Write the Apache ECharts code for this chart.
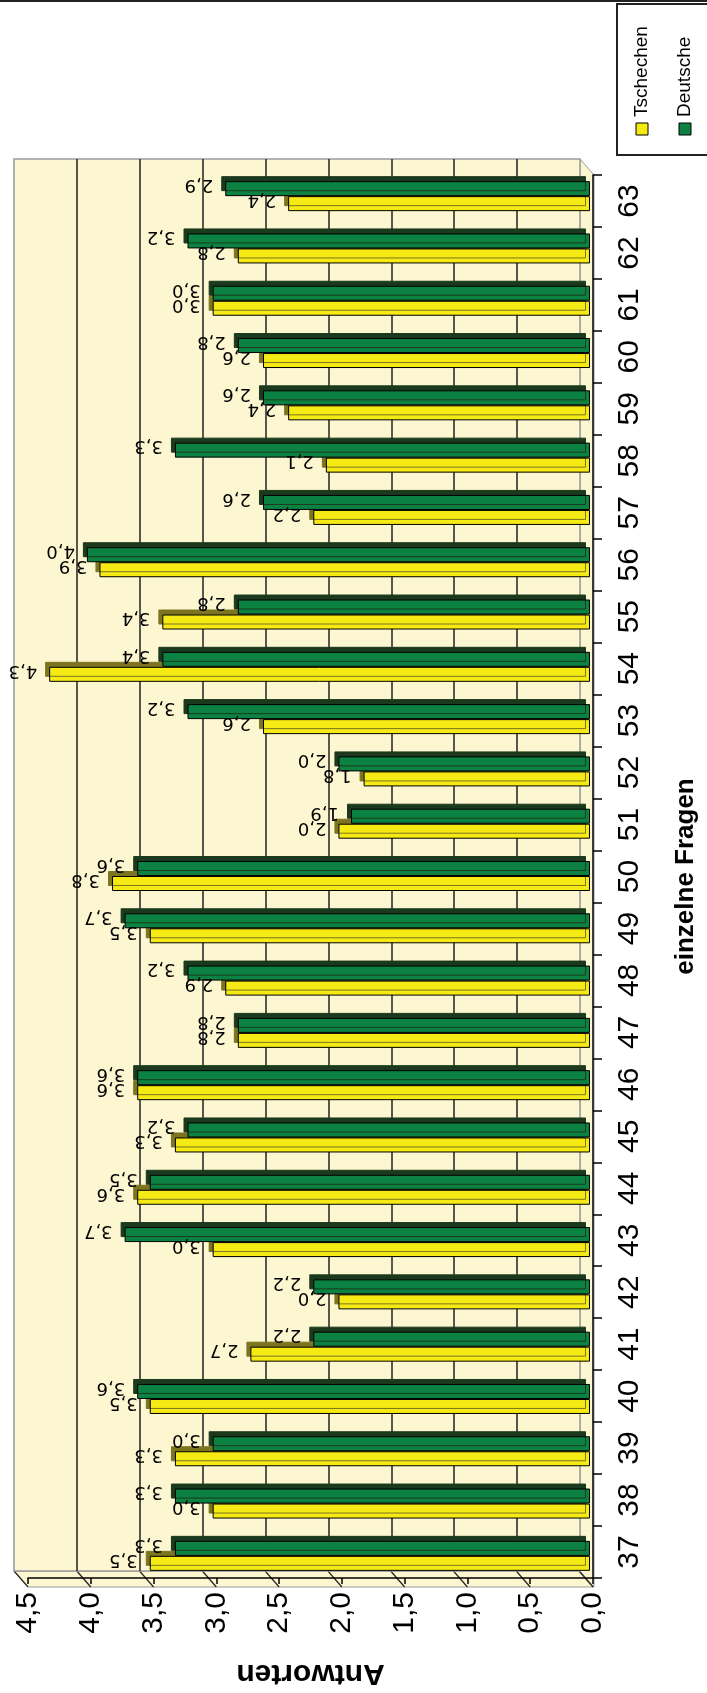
<!DOCTYPE html>
<html>
<head>
<meta charset="utf-8">
<title>Antworten - einzelne Fragen</title>
<script src="https://cdn.jsdelivr.net/npm/echarts@6/dist/echarts.min.js"></script>
<style>
  html, body { margin: 0; padding: 0; background: #fff; overflow: hidden; }
  #chart { width: 707px; height: 1693px; }
</style>
</head>
<body>
<div id="chart"></div>
<script>
var fragen = ['37','38','39','40','41','42','43','44','45','46','47','48','49','50',
              '51','52','53','54','55','56','57','58','59','60','61','62','63'];
var tschechen = [3.5,3.0,3.3,3.5,2.7,2.0,3.0,3.6,3.3,3.6,2.8,2.9,3.5,3.8,
                 2.0,1.8,2.6,4.3,3.4,3.9,2.2,2.1,2.4,2.6,3.0,2.8,2.4];
var deutsche  = [3.3,3.3,3.0,3.6,2.2,2.2,3.7,3.5,3.2,3.6,2.8,3.2,3.7,3.6,
                 1.9,2.0,3.2,3.4,2.8,4.0,2.6,3.3,2.6,2.8,3.0,3.2,2.9];
var serienNamen = ['Tschechen', 'Deutsche'];
var achseMin = 0, achseMax = 4.5, achseSchritt = 0.5;

// Farben
var gelb = '#f5ea14', gelbTiefe = '#7d7420';
var gruen = '#0c8242', gruenTiefe = '#1b391c';
var wand = '#fcf7d0';

// Layout (Bild ist um 90 Grad gedreht)
var W = 707, H = 1693;
var front = {left: 28, right: 113, top: 175, bottom: 106};
var tiefe = [14, 16];
var wandGrid = {left: front.left - tiefe[0], right: front.right + tiefe[0],
                top: front.top - tiefe[1], bottom: front.bottom + tiefe[1]};
var balkenGrid = {left: front.left - 4, right: front.right + 4,
                  top: front.top - 5, bottom: front.bottom + 5};
var x0 = W - front.right, y0 = H - front.bottom;

var schmal = "'Liberation Sans Narrow', 'Liberation Sans', Arial, sans-serif";
var fett = "'Liberation Sans', Arial, sans-serif";

function komma(v) {
    return v.toFixed(1).replace('.', ',');
}

function valueAxis(idx, shown) {
    return {
        type: 'value', gridIndex: idx, inverse: true,
        min: achseMin, max: achseMax, interval: achseSchritt,
        position: 'bottom',
        show: true,
        axisLine: {show: shown, onZero: false, lineStyle: {color: '#000', width: 1.5}},
        axisTick: {show: shown, length: 6, lineStyle: {color: '#000', width: 1.5}},
        axisLabel: {show: shown, rotate: 90, margin: 14, fontSize: 30,
                    fontFamily: schmal, color: '#000', formatter: komma},
        splitLine: {show: false}
    };
}

function catAxis(idx, shown) {
    return {
        type: 'category', gridIndex: idx, data: fragen,
        position: 'right',
        show: shown,
        axisLine: {show: shown, lineStyle: {color: '#000', width: 1.5}},
        axisTick: {show: shown, length: 9, lineStyle: {color: '#000', width: 1.5}},
        axisLabel: {show: shown, rotate: 90, margin: 22, fontSize: 30,
                    fontFamily: schmal, color: '#000'},
        splitLine: {show: false}
    };
}

var xA = valueAxis(0, true);
xA.name = 'Antworten';
xA.nameLocation = 'middle';
xA.nameRotate = 180;
xA.nameGap = 80;
xA.nameTextStyle = {fontSize: 30, fontWeight: 'bold', color: '#000', fontFamily: fett};

var xB = valueAxis(1, false);
xB.splitLine = {show: true, showMinLine: false, showMaxLine: false,
                lineStyle: {color: '#222', width: 1.5}};

var yA = catAxis(0, true);
yA.name = 'einzelne Fragen';
yA.nameLocation = 'middle';
yA.nameRotate = 90;
yA.nameGap = 80;
yA.nameTextStyle = {fontSize: 26, fontWeight: 'bold', color: '#000', fontFamily: fett};

// Balken: die gelbe Reihe liegt hinter der gruenen (3D-Tiefe)
function serie(name, daten, farbe, tiefeFarbe, z) {
    return {
        name: name, type: 'bar', data: daten, z: z,
        xAxisIndex: 2, yAxisIndex: 2,
        barWidth: 15, barGap: '0%',
        itemStyle: {
            color: farbe, borderColor: '#000', borderWidth: 1,
            shadowColor: tiefeFarbe, shadowBlur: 0,
            shadowOffsetX: -4, shadowOffsetY: -5
        },
        label: {show: false},
        emphasis: {disabled: true}
    };
}

// unsichtbare Kopie in gleichem Raster, nur fuer die Beschriftung (liegt ueber allen Balken)
function beschriftung(name, daten) {
    return {
        name: name, type: 'bar', data: daten, z: 5, silent: true,
        xAxisIndex: 3, yAxisIndex: 3,
        barWidth: 15, barGap: '0%',
        itemStyle: {color: 'rgba(0,0,0,0)'},
        label: {
            show: true, position: 'left', distance: 12,
            rotate: 180, align: 'left', verticalAlign: 'middle',
            offset: [0, 4],
            fontSize: 18, fontFamily: 'DejaVu Sans, sans-serif', color: '#000',
            formatter: function (p) { return komma(p.value); }
        },
        emphasis: {disabled: true}
    };
}

var chart = echarts.init(document.getElementById('chart'));

var balkenRaster = {left: balkenGrid.left, right: balkenGrid.right,
                    top: balkenGrid.top, bottom: balkenGrid.bottom};

var option = {
    animation: false,
    backgroundColor: '#fff',
    grid: [
        {left: front.left, right: front.right, top: front.top, bottom: front.bottom},
        {left: wandGrid.left, right: wandGrid.right, top: wandGrid.top, bottom: wandGrid.bottom,
         show: true, backgroundColor: wand, borderColor: '#9a9a9a', borderWidth: 1.5},
        balkenRaster,
        balkenRaster
    ],
    xAxis: [xA, xB, valueAxis(2, false), valueAxis(3, false)],
    yAxis: [yA, catAxis(1, false), catAxis(2, false), catAxis(3, false)],
    series: [
        serie(serienNamen[1], deutsche, gruen, gruenTiefe, 3),
        serie(serienNamen[0], tschechen, gelb, gelbTiefe, 2),
        beschriftung(serienNamen[1], deutsche),
        beschriftung(serienNamen[0], tschechen)
    ]
};
chart.setOption(option);

// 3D-Boden, Seitenwand, Legende
var wl = wandGrid.left, wr = W - wandGrid.right, wt = wandGrid.top, wb = H - wandGrid.bottom;
var deko = [
    {type: 'line', z: -5, shape: {x1: 0, y1: 1, x2: W, y2: 1},
     style: {stroke: '#222', lineWidth: 2}},
    {type: 'polygon', z: -10,
     shape: {points: [[wl, wb], [wr, wb], [x0, y0], [front.left, y0]]},
     style: {fill: wand, stroke: '#9a9a9a', lineWidth: 1}},
    {type: 'polygon', z: -10,
     shape: {points: [[wr, wt], [x0, front.top], [x0, y0], [wr, wb]]},
     style: {fill: wand, stroke: '#9a9a9a', lineWidth: 1}}
];
for (var v = achseMin; v <= achseMax + 1e-9; v += achseSchritt) {
    var px = chart.convertToPixel({xAxisIndex: 0}, v);
    deko.push({type: 'line', z: -5,
        shape: {x1: px - tiefe[0], y1: wb, x2: px, y2: y0},
        style: {stroke: '#222', lineWidth: 1.2}});
}
// Legende (gedreht)
var farben = [gelb, gruen];
deko.push({type: 'rect', z: 10, shape: {x: 617, y: 4, width: 100, height: 151},
           style: {fill: '#fff', stroke: '#222', lineWidth: 2}});
for (var i = 0; i < serienNamen.length; i++) {
    var lx = 642 + i * 43;
    deko.push({type: 'rect', z: 11, shape: {x: lx - 6, y: 123, width: 12, height: 12},
               style: {fill: farben[i], stroke: '#000', lineWidth: 1}});
    deko.push({type: 'text', z: 11, x: lx, y: 117, rotation: Math.PI / 2,
               style: {text: serienNamen[i], fill: '#000', fontSize: 19,
                       fontFamily: schmal, align: 'left', verticalAlign: 'middle'}});
}
chart.setOption({graphic: deko});
</script>
</body>
</html>
